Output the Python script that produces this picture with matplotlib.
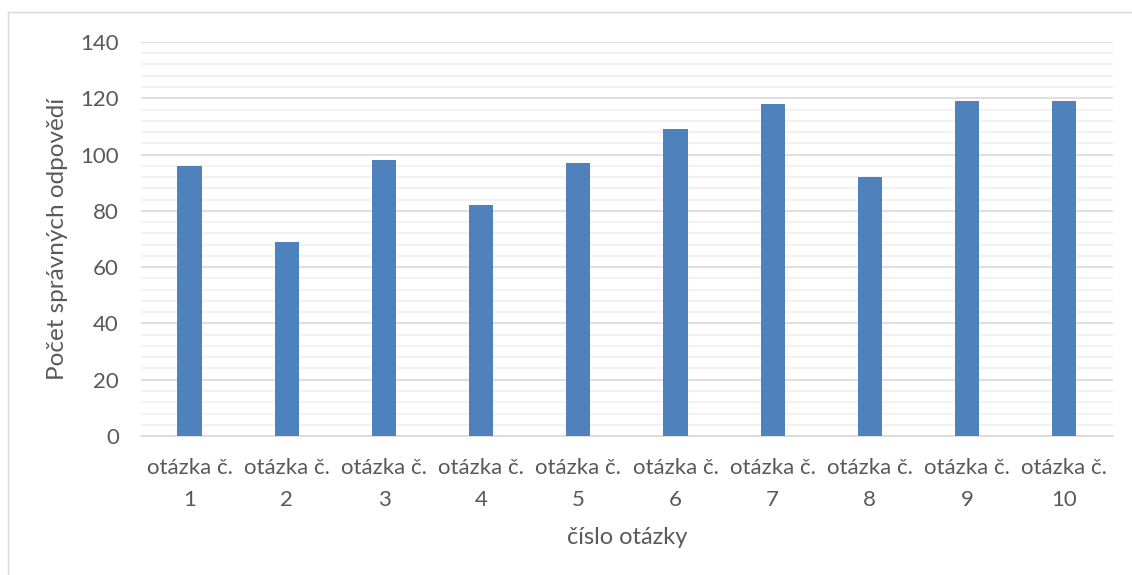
import matplotlib.pyplot as plt
from matplotlib.lines import Line2D
import numpy as np

# data
categories = ["otázka č.\n1", "otázka č.\n2", "otázka č.\n3", "otázka č.\n4", "otázka č.\n5",
              "otázka č.\n6", "otázka č.\n7", "otázka č.\n8", "otázka č.\n9", "otázka č.\n10"]
values = [96, 69, 98, 82, 97, 109, 118, 92, 119, 119]

plt.rcParams['font.family'] = ['Lato', 'DejaVu Sans']
text_col = '#595959'

fig = plt.figure(figsize=(11.32, 5.75), dpi=100)
ax = fig.add_axes([0.1246, 0.2417, 0.8584, 0.6853])

x = np.arange(len(categories))
ax.bar(x, values, width=0.25, color='#4f81bd', zorder=3)

ax.set_xlim(-0.5, len(categories) - 0.5)
ax.set_ylim(0, 140)
ax.set_yticks(np.arange(0, 141, 20))
ax.set_yticks(np.arange(0, 141, 4), minor=True)
ax.grid(axis='y', which='major', color='#d9d9d9', linewidth=1.2, zorder=0)
ax.grid(axis='y', which='minor', color='#f0f0f0', linewidth=1.2, zorder=0)

ax.set_xticks(x)
ax.set_xticklabels(categories, linespacing=1.75)
ax.tick_params(axis='both', which='both', length=0, labelsize=16, colors=text_col)
ax.tick_params(axis='x', pad=16)
ax.tick_params(axis='y', pad=16)

for s in ['top', 'right', 'left']:
    ax.spines[s].set_visible(False)
ax.spines['bottom'].set_color('#d9d9d9')
ax.spines['bottom'].set_linewidth(1.2)

ax.set_xlabel("číslo otázky", fontsize=17, color=text_col, labelpad=12)
ax.set_ylabel("Počet správných odpovědí", fontsize=17.5, color=text_col, labelpad=9)

# chart border (partly cropped)
fig.add_artist(Line2D([8 / 1132, 8 / 1132], [0, 1 - 12 / 575], transform=fig.transFigure, color='#d9d9d9', lw=1))
fig.add_artist(Line2D([8 / 1132, 1], [1 - 12 / 575, 1 - 12 / 575], transform=fig.transFigure, color='#d9d9d9', lw=1))

fig.savefig('out.png', dpi=100)
